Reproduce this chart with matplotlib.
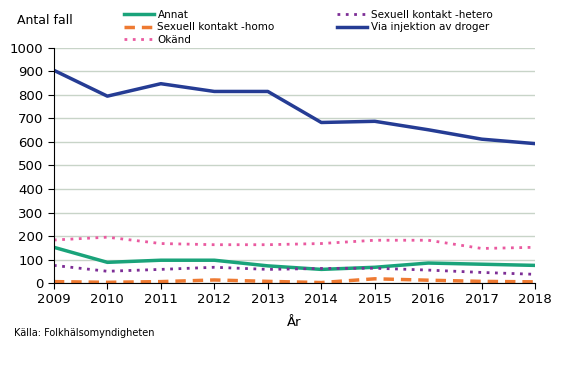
import numpy as np
import matplotlib
matplotlib.use('Agg')
import matplotlib.pyplot as plt

years = [2009, 2010, 2011, 2012, 2013, 2014, 2015, 2016, 2017, 2018]
annat = [152, 88, 97, 97, 73, 58, 67, 85, 80, 75]
homo = [6, 3, 6, 13, 7, 2, 18, 12, 7, 5]
okand = [183, 195, 168, 163, 163, 168, 182, 182, 147, 152]
hetero = [75, 50, 58, 67, 58, 62, 63, 55, 45, 37]
injektion = [905, 795, 848, 815, 815, 683, 688, 652, 612, 593]

plt.rcParams['font.family'] = ['Verdana', 'DejaVu Sans']

fig = plt.figure(figsize=(5.67, 3.69), dpi=100)
ax = fig.add_axes([0.095, 0.233, 0.849, 0.637])

l1, = ax.plot(years, annat, color='#1aa37a', lw=2.5, label='Annat')
l2, = ax.plot(years, homo, color='#ee7a32', lw=2.5, ls=(0, (3, 2)), label='Sexuell kontakt -homo')
l3, = ax.plot(years, okand, color='#ea5aa0', lw=2, ls=(0, (1, 2)), label='Okänd')
l4, = ax.plot(years, hetero, color='#7d2e96', lw=2, ls=(0, (1, 2)), label='Sexuell kontakt -hetero')
l5, = ax.plot(years, injektion, color='#253c94', lw=2.5, label='Via injektion av droger')

ax.set_xlim(2009, 2018)
ax.set_ylim(0, 1000)
ax.set_xticks(years)
ax.set_yticks(np.arange(0, 1001, 100))
ax.tick_params(labelsize=9.5, direction='out', length=4)
ax.grid(axis='y', color='#c8d4c8', lw=1)
ax.set_axisbelow(True)
for s in ['top', 'right']:
    ax.spines[s].set_visible(False)
ax.set_xlabel('År', fontsize=9.5, labelpad=7)

fig.text(0.03, 0.935, 'Antal fall', fontsize=9)
fig.text(0.025, 0.09, 'Källa: Folkhälsomyndigheten', fontsize=7)

fig.legend(handles=[l1, l2, l3, l4, l5], ncol=2, loc='upper left',
           bbox_to_anchor=(0.218, 0.974), frameon=False, fontsize=7.5,
           handlelength=2.9, handletextpad=0.35, labelspacing=0.25,
           columnspacing=6.0, borderaxespad=0, borderpad=0)

fig.savefig('out.png', dpi=100)
